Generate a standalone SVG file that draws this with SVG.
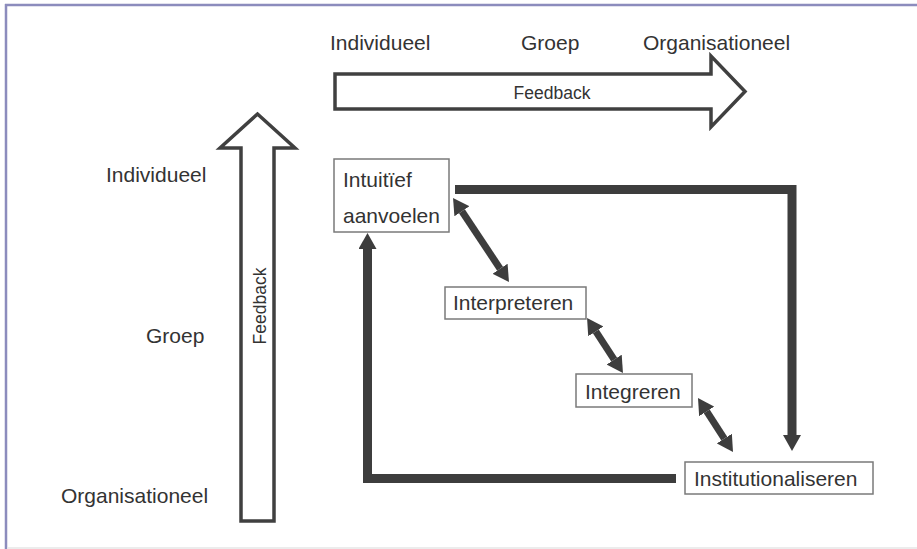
<svg xmlns="http://www.w3.org/2000/svg" width="917" height="549" viewBox="0 0 917 549">
<style>
  .lbl { font-family: "Liberation Sans", Arial, sans-serif; font-size: 21px; fill: #333333; }
  .fb { font-family: "Liberation Sans", Arial, sans-serif; font-size: 17.5px; fill: #333333; }
  .box { fill: #ffffff; stroke: #7a7a7a; stroke-width: 1.5; }
  .big { fill: #ffffff; stroke: #404040; stroke-width: 3.5; stroke-linejoin: miter; }
  .thick { fill: none; stroke: #3d3d3d; stroke-width: 9; stroke-linejoin: miter; }
  .dbl { fill: none; stroke: #3d3d3d; stroke-width: 7; }
</style>
<defs>
  <marker id="ah" markerUnits="userSpaceOnUse" markerWidth="16" markerHeight="18" refX="0" refY="9" orient="auto-start-reverse" viewBox="0 0 16 18">
    <path d="M0,0 L16,9 L0,18 Z" fill="#3d3d3d"/>
  </marker>
</defs>
<rect width="917" height="549" fill="#ffffff"/>
<g id="frame">
  <line x1="5" y1="5" x2="917" y2="5" stroke="#8c8cbd" stroke-width="2.5"/>
  <line x1="6" y1="4" x2="6" y2="549" stroke="#8c8cbd" stroke-width="2.5"/>
  <line x1="7" y1="548" x2="917" y2="548" stroke="#e6e6e6" stroke-width="1.5"/>
</g>
<g id="top-axis">
  <text class="lbl" x="330" y="50">Individueel</text>
  <text class="lbl" x="521" y="50">Groep</text>
  <text class="lbl" x="643" y="50">Organisationeel</text>
  <polygon class="big" points="335,74 711,74 711,56 745,91.5 711,127 711,109 335,109"/>
  <text class="fb" x="552" y="99" text-anchor="middle">Feedback</text>
</g>
<g id="left-axis">
  <text class="lbl" x="106" y="182">Individueel</text>
  <text class="lbl" x="146" y="343">Groep</text>
  <text class="lbl" x="61" y="503">Organisationeel</text>
  <polygon class="big" points="257.5,114 295,148 274,148 274,521 241,521 241,148 220,148"/>
  <text class="fb" transform="translate(266,306) rotate(-90)" text-anchor="middle">Feedback</text>
</g>
<g id="connectors">
  <path class="thick" d="M455,189.5 H792 V435" marker-end="url(#ah)"/>
  <path class="thick" d="M676,478.5 H367.5 V249" marker-end="url(#ah)"/>
  <line class="dbl" x1="461.9" y1="211.3" x2="500.1" y2="268.7" marker-start="url(#ah)" marker-end="url(#ah)"/>
  <line class="dbl" x1="595.8" y1="331.4" x2="614.2" y2="359.6" marker-start="url(#ah)" marker-end="url(#ah)"/>
  <line class="dbl" x1="706.7" y1="411.4" x2="724.3" y2="438.6" marker-start="url(#ah)" marker-end="url(#ah)"/>
</g>
<g id="node-intuitief">
  <rect class="box" x="334" y="159" width="115" height="73"/>
  <text class="lbl" x="343" y="187">Intuitïef</text>
  <text class="lbl" x="343" y="223">aanvoelen</text>
</g>
<g id="node-interpreteren">
  <rect class="box" x="445" y="287" width="141" height="32"/>
  <text class="lbl" x="453" y="310">Interpreteren</text>
</g>
<g id="node-integreren">
  <rect class="box" x="576" y="374" width="116" height="33"/>
  <text class="lbl" x="585" y="399">Integreren</text>
</g>
<g id="node-institutionaliseren">
  <rect class="box" x="685" y="462" width="188" height="32"/>
  <text class="lbl" x="694" y="486">Institutionaliseren</text>
</g>
</svg>
